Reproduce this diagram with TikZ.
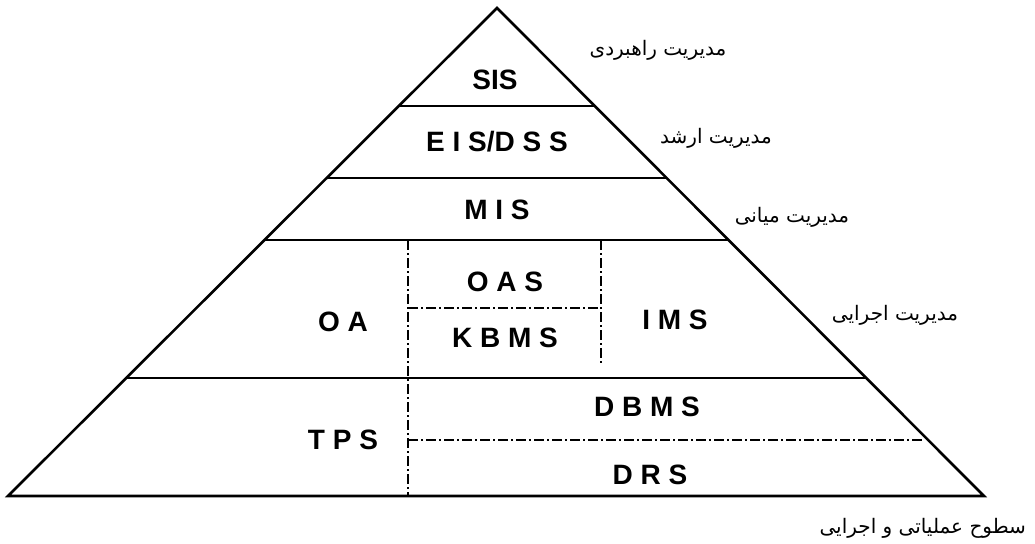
\documentclass[tikz,border=0pt]{standalone}
\usepackage{fontspec}
\setmainfont{Liberation Sans}
\newfontfamily\persianfont[Script=Arabic]{DejaVu Sans}
\TeXXeTstate=1
\usetikzlibrary{calc}

\begin{document}
\begin{tikzpicture}[x=0.5pt,y=-0.5pt,
    edge/.style={line width=1.3pt, line join=miter},
    tier/.style={line width=1.1pt},
    dashdot/.style={line width=0.7pt, dash pattern=on 5pt off 1.5pt on 1pt off 1.5pt},
    sys/.style={font=\fontsize{14}{16}\selectfont\bfseries},
    level/.style={font=\persianfont\fontsize{10}{12}\selectfont}]

    \useasboundingbox (0,0) rectangle (1035,543);

    % Corners of the pyramid
    \coordinate (apex) at (497,8);
    \coordinate (bl) at (8,496);
    \coordinate (br) at (984,496);

    % Outline
    \draw[edge] (bl) -- (apex) -- (br) -- cycle;

    % Tier borders
    \draw[tier] ($(apex)!0.201!(bl)$) -- ($(apex)!0.201!(br)$); % SIS
    \draw[tier] ($(apex)!0.348!(bl)$) -- ($(apex)!0.348!(br)$); % EIS/DSS
    \draw[tier] ($(apex)!0.475!(bl)$) -- ($(apex)!0.475!(br)$); % MIS
    \draw[tier] ($(apex)!0.758!(bl)$) -- ($(apex)!0.758!(br)$); % office tier

    % Inner dash-dot borders
    \draw[dashdot] (408,240) -- (408,496);
    \draw[dashdot] (601,240) -- (601,366);
    \draw[dashdot] (408,308) -- (601,308);
    \draw[dashdot] (408,440) -- (925,440);

    % System labels
    \node[sys] (sis)  at (495,80)  {SIS};
    \node[sys] (eis)  at (497,142) {E I S/D S S};
    \node[sys] (mis)  at (497,210) {M I S};
    \node[sys] (oa)   at (343,322) {O A};
    \node[sys] (oas)  at (505,282) {O A S};
    \node[sys] (kbms) at (505,338) {K B M S};
    \node[sys] (ims)  at (675,320) {I M S};
    \node[sys] (tps)  at (343,440) {T P S};
    \node[sys] (dbms) at (647,407) {D B M S};
    \node[sys] (drs)  at (650,475) {D R S};

    % Management levels
    \node[level] (strat) at (658,50)  {\beginR مدیریت راهبردی\endR};
    \node[level] (senior) at (716,138) {\beginR مدیریت ارشد\endR};
    \node[level] (middle) at (792,217) {\beginR مدیریت میانی\endR};
    \node[level] (exec) at (895,315) {\beginR مدیریت اجرایی\endR};
    \node[level, anchor=east] (ops) at (1033,528) {\beginR سطوح عملیاتی و اجرایی\endR};
\end{tikzpicture}
\end{document}
